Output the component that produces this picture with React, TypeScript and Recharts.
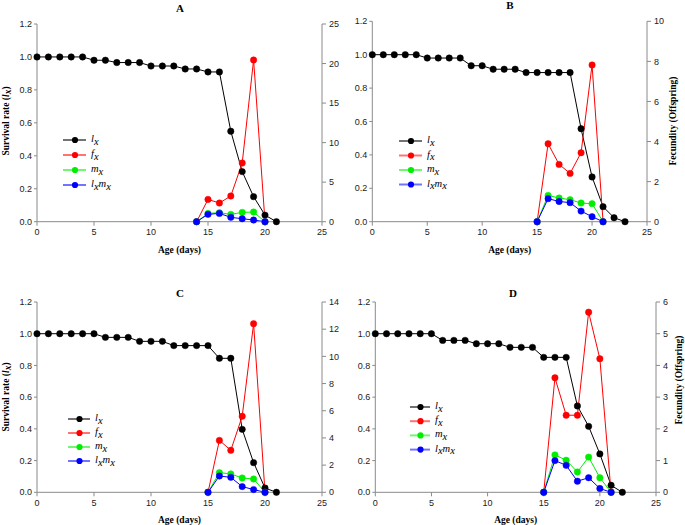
import React from 'react';
import { LineChart, Line, XAxis, YAxis, Legend } from 'recharts';

// ---------- data ----------
const agesA = [0,1,2,3,4,5,6,7,8,9,10,11,12,13,14,15,16,17,18,19,20,21];
const lxA = [1,1,1,1,1,0.98,0.98,0.966,0.966,0.966,0.945,0.945,0.945,0.927,0.927,0.909,0.909,0.549,0.304,0.152,0.04,0];
const repStartA = 14;
const fxA = [0,2.82,2.36,3.25,7.42,20.45,0];
const mxA = [0,1.05,1.14,0.93,1.18,1.22,0];
const lxmxA = [0,0.93,1.05,0.55,0.38,0.21,0];

const agesB = [0,1,2,3,4,5,6,7,8,9,10,11,12,13,14,15,16,17,18,19,20,21,22,23];
const lxB = [1,1,1,1,1,0.98,0.98,0.98,0.98,0.934,0.934,0.913,0.913,0.913,0.893,0.893,0.893,0.893,0.893,0.557,0.268,0.09,0.024,0];
const repStartB = 15;
const fxB = [0,3.89,2.86,2.41,3.44,7.82,0];
const mxB = [0,1.31,1.18,1.1,0.93,0.9,0];
const lxmxB = [0,1.15,1.01,0.95,0.53,0.25,0];

const agesC = [0,1,2,3,4,5,6,7,8,9,10,11,12,13,14,15,16,17,18,19,20,21];
const lxC = [1,1,1,1,1,1,0.977,0.977,0.977,0.952,0.952,0.952,0.925,0.925,0.925,0.925,0.845,0.845,0.397,0.187,0.027,0];
const repStartC = 15;
const fxC = [0,3.82,3.09,5.59,12.4,0];
const mxC = [0,1.45,1.35,1.05,0.98,0];
const lxmxC = [0,1.2,1.1,0.42,0.2,0];

const agesD = [0,1,2,3,4,5,6,7,8,9,10,11,12,13,14,15,16,17,18,19,20,21,22];
const lxD = [1,1,1,1,1,1,0.958,0.958,0.958,0.937,0.937,0.937,0.914,0.914,0.914,0.851,0.851,0.851,0.544,0.416,0.242,0.044,0];
const repStartD = 15;
const fxD = [0,3.61,2.43,2.43,5.68,4.21,0];
const mxD = [0,1.18,1.01,0.64,1.11,0.46,0];
const lxmxD = [0,1.0,0.85,0.35,0.46,0.12,0];

const xTicks = [0,5,10,15,20,25];
const leftTicks = [0,0.2,0.4,0.6,0.8,1.0,1.2];
const rightTicksA = [0,5,10,15,20,25];
const rightTicksB = [0,2,4,6,8,10];
const rightTicksC = [0,2,4,6,8,10,12,14];
const rightTicksD = [0,1,2,3,4,5,6];

const seriesColors = { lx: '#000000', fx: '#ff0000', mx: '#00ee00', lxmx: '#0000ff' };

function buildRows(ages: number[], lx: number[], start: number, fx: number[], mx: number[], lxmx: number[]) {
  return ages.map((a, i) => {
    const j = i - start;
    const inRep = j >= 0 && j < fx.length;
    return {
      age: a,
      lx: lx[i],
      fx: inRep ? fx[j] : null,
      mx: inRep ? mx[j] : null,
      lxmx: inRep ? lxmx[j] : null,
    };
  });
}

// ---------- layout ----------
const SANS = '"Liberation Sans", Arial, sans-serif';
const SERIF = '"Liberation Serif", "Times New Roman", serif';
const AXIS = '#8a8a8a';

type PanelCfg = {
  id: string;
  rows: any[];
  rightTicks: number[];
  left: number; top: number; w: number; h: number;
  plotL: number; plotR: number; plotT: number; plotB: number;
  titleX: number; titleY: number;
  xLabelY: number;
  yLabel?: { x: number; y: number };
  rLabel?: { x: number; y: number };
  legend: { x: number; y: number; gap: number; lineW: number };
};

const panels: PanelCfg[] = [
  {
    id: 'A', rows: buildRows(agesA, lxA, repStartA, fxA, mxA, lxmxA), rightTicks: rightTicksA,
    left: 0, top: 0, w: 340, h: 262, plotL: 37, plotR: 322, plotT: 24, plotB: 221.7,
    titleX: 180, titleY: 8, xLabelY: 250,
    yLabel: { x: 6, y: 121 },
    legend: { x: 63, y: 139.5, gap: 15, lineW: 23 },
  },
  {
    id: 'B', rows: buildRows(agesB, lxB, repStartB, fxB, mxB, lxmxB), rightTicks: rightTicksB,
    left: 340, top: 0, w: 345, h: 262, plotL: 372.3, plotR: 647, plotT: 21.3, plotB: 221.7,
    titleX: 510, titleY: 5, xLabelY: 250,
    rLabel: { x: 673, y: 121 },
    legend: { x: 399, y: 140.7, gap: 14.5, lineW: 23 },
  },
  {
    id: 'C', rows: buildRows(agesC, lxC, repStartC, fxC, mxC, lxmxC), rightTicks: rightTicksC,
    left: 0, top: 262, w: 340, h: 263, plotL: 37, plotR: 322, plotT: 302, plotB: 492.3,
    titleX: 180, titleY: 293, xLabelY: 520,
    yLabel: { x: 6, y: 397 },
    legend: { x: 68, y: 419.3, gap: 14, lineW: 22 },
  },
  {
    id: 'D', rows: buildRows(agesD, lxD, repStartD, fxD, mxD, lxmxD), rightTicks: rightTicksD,
    left: 340, top: 262, w: 345, h: 263, plotL: 375.3, plotR: 656, plotT: 302, plotB: 492.3,
    titleX: 513, titleY: 293, xLabelY: 520,
    rLabel: { x: 679, y: 380 },
    legend: { x: 410, y: 406.7, gap: 14.2, lineW: 20 },
  },
];

// ---------- text helpers ----------
function AxisText(props: any) {
  const { px, py, rot, kind } = props;
  const fs = 9.5;
  return (
    <text
      x={px}
      y={py}
      transform={rot ? `rotate(${rot} ${px} ${py})` : undefined}
      textAnchor="middle"
      dominantBaseline="central"
      fontFamily={SERIF}
      fontWeight="bold"
      fontSize={fs}
      fill="#000"
    >
      {kind === 'survival' ? (
        <>
          <tspan>Survival rate (</tspan>
          <tspan fontStyle="italic">l</tspan>
          <tspan fontStyle="italic" dy={2}>x</tspan>
          <tspan dy={-2}>)</tspan>
        </>
      ) : kind === 'fec' ? (
        <tspan>Fecundity (Offspring)</tspan>
      ) : (
        <tspan>Age (days)</tspan>
      )}
    </text>
  );
}

function LegendBox({ cfg }: { cfg: PanelCfg }) {
  const { lineW, gap } = cfg.legend;
  const items = [
    { key: 'lx', parts: [['l', true], ['x', false]] },
    { key: 'fx', parts: [['f', true], ['x', false]] },
    { key: 'mx', parts: [['m', true], ['x', false]] },
    { key: 'lxmx', parts: [['l', true], ['x', false], ['m', true], ['x', false]] },
  ] as const;
  const fs = 10.5;
  return (
    <svg width={80} height={70} style={{ overflow: 'visible', display: 'block' }}>
      {items.map((it, i) => {
        const y = 6 + i * gap;
        const c = (seriesColors as any)[it.key];
        return (
          <g key={it.key}>
            <line x1={0} x2={lineW} y1={y} y2={y} stroke={c} strokeOpacity={0.55} strokeWidth={2} />
            <circle cx={lineW / 2 + 0.5} cy={y} r={3.1} fill={c} />
            <text x={lineW + 5} y={y + 2} fontFamily={SERIF} fontSize={fs} fontStyle="italic" fill="#000">
              {it.parts.map((p, k) =>
                p[1] ? (
                  <tspan key={k} dy={k === 0 ? 0 : -2.5}>{p[0]}</tspan>
                ) : (
                  <tspan key={k} dy={2.5}>{p[0]}</tspan>
                )
              )}
            </text>
          </g>
        );
      })}
    </svg>
  );
}

function Panel({ cfg }: { cfg: PanelCfg }) {
  const leftW = cfg.plotL - cfg.left;
  const rightW = cfg.left + cfg.w - cfg.plotR;
  const marginTop = cfg.plotT - cfg.top;
  const xH = cfg.top + cfg.h - cfg.plotB;
  const rMax = cfg.rightTicks[cfg.rightTicks.length - 1];
  const tickStyle = { fontFamily: SANS, fontSize: 9, fill: '#222' };
  const dot = (c: string) => ({ r: 3.2, fill: c, stroke: c, strokeWidth: 0.5 });
  return (
    <div style={{ position: 'absolute', left: cfg.left, top: cfg.top, width: cfg.w, height: cfg.h }}>
      <div
        style={{
          position: 'absolute',
          left: cfg.titleX - cfg.left - 20,
          top: cfg.titleY - cfg.top - 7,
          width: 40,
          textAlign: 'center',
          fontFamily: SERIF,
          fontWeight: 'bold',
          fontSize: 11,
          lineHeight: '14px',
          zIndex: 2,
        }}
      >
        {cfg.id}
      </div>
      <LineChart width={cfg.w} height={cfg.h} data={cfg.rows} margin={{ top: marginTop, right: 0, bottom: 0, left: 0 }}>
        <XAxis
          dataKey="age"
          type="number"
          domain={[0, 25]}
          ticks={xTicks}
          height={xH}
          stroke={AXIS}
          tickSize={4}
          tickMargin={3}
          tick={tickStyle}
          interval={0}
          label={<AxisText px={(cfg.plotL + cfg.plotR) / 2 - cfg.left} py={cfg.xLabelY - cfg.top} kind="age" />}
        />
        <YAxis
          yAxisId="left"
          orientation="left"
          domain={[0, 1.2]}
          ticks={leftTicks}
          width={leftW}
          stroke={AXIS}
          tickSize={3}
          tickMargin={2}
          tick={tickStyle}
          interval={0}
          tickFormatter={(v: number) => v.toFixed(1)}
          label={cfg.yLabel ? <AxisText px={cfg.yLabel.x - cfg.left} py={cfg.yLabel.y - cfg.top} rot={-90} kind="survival" /> : undefined}
        />
        <YAxis
          yAxisId="right"
          orientation="right"
          domain={[0, rMax]}
          ticks={cfg.rightTicks}
          width={rightW}
          stroke={AXIS}
          tickSize={4}
          tickMargin={3}
          tick={tickStyle}
          interval={0}
          label={cfg.rLabel ? <AxisText px={cfg.rLabel.x - cfg.left} py={cfg.rLabel.y - cfg.top} rot={-90} kind="fec" /> : undefined}
        />
        <Legend
          verticalAlign="middle"
          align="center"
          layout="horizontal"
          content={() => <LegendBox cfg={cfg} />}
          wrapperStyle={{
            position: 'absolute',
            left: cfg.legend.x - cfg.left,
            top: cfg.legend.y - cfg.top - 6,
            width: 80,
            height: 70,
          }}
        />
        <Line yAxisId="left" dataKey="lx" stroke={seriesColors.lx} strokeWidth={1} dot={dot(seriesColors.lx)} isAnimationActive={false} />
        <Line yAxisId="right" dataKey="fx" stroke={seriesColors.fx} strokeWidth={1} dot={dot(seriesColors.fx)} isAnimationActive={false} />
        <Line yAxisId="right" dataKey="mx" stroke={seriesColors.mx} strokeWidth={1} dot={dot(seriesColors.mx)} isAnimationActive={false} />
        <Line yAxisId="right" dataKey="lxmx" stroke={seriesColors.lxmx} strokeWidth={1} dot={dot(seriesColors.lxmx)} isAnimationActive={false} />
      </LineChart>
    </div>
  );
}

export default function App() {
  return (
    <div style={{ position: 'absolute', left: 0, top: 0, width: 685, height: 525, background: '#fff' }}>
      {panels.map((p) => (
        <Panel key={p.id} cfg={p} />
      ))}
    </div>
  );
}
